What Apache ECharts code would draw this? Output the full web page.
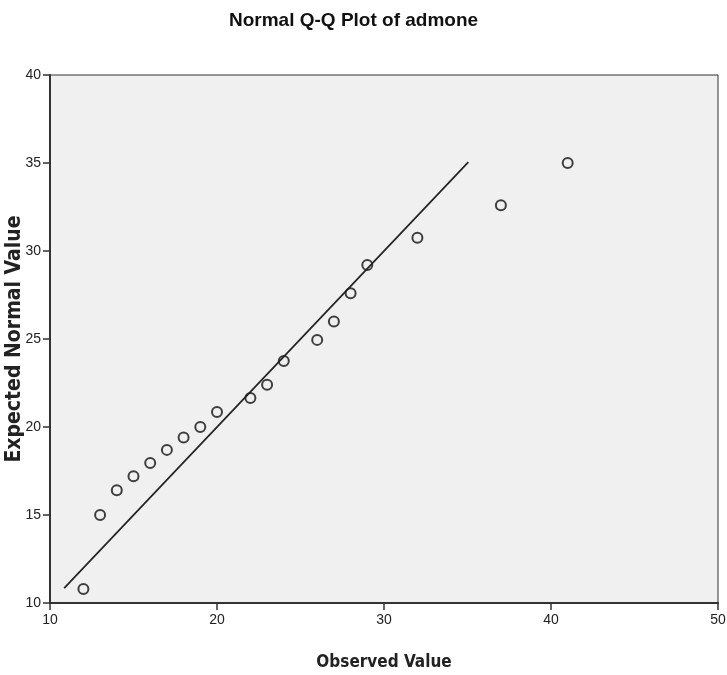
<!DOCTYPE html>
<html>
<head>
<meta charset="utf-8">
<script src="https://cdn.jsdelivr.net/npm/echarts@6/dist/echarts.min.js"></script>
<style>
  html, body { margin: 0; padding: 0; background: #fff; }
  #chart { width: 727px; height: 675px; }
</style>
</head>
<body>
<div id="chart"></div>
<script>
let observed = [12, 13, 14, 15, 16, 17, 18, 19, 20, 22, 23, 24, 26, 27, 28, 29, 32, 37, 41];
let expected = [10.8, 15.0, 16.4, 17.2, 17.95, 18.7, 19.4, 20.0, 20.85, 21.65, 22.4, 23.75, 24.95, 26.0, 27.6, 29.2, 30.75, 32.6, 35.0];

// reference line y = x, its ends
let lineEnds = [10.85, 35.05];

let xTicks = [10, 20, 30, 40, 50];
let yTicks = [10, 15, 20, 25, 30, 35, 40];

let chart = echarts.init(document.getElementById('chart'));

let points = [];
for (let i = 0; i < observed.length; i++) {
    points.push([observed[i], expected[i]]);
}

let axisFont = { fontFamily: '"Liberation Sans Narrow", Arial, sans-serif', fontSize: 14, color: '#222' };
let nameFont = '"DejaVu Sans Condensed", "DejaVu Sans", sans-serif';

let option = {
    backgroundColor: '#fff',
    animation: false,
    title: {
        text: 'Normal Q-Q Plot of admone',
        left: 224,
        top: 6,
        textStyle: { fontFamily: 'Arial, "Liberation Sans", sans-serif', fontSize: 19, fontWeight: 'bold', color: '#111' }
    },
    grid: {
        left: 50, right: 9, top: 75, bottom: 72,
        outerBoundsMode: 'none',
        containLabel: false,
        show: true,
        backgroundColor: '#f0f0f0',
        borderColor: '#333',
        borderWidth: 1
    },
    xAxis: {
        type: 'value',
        min: xTicks[0], max: xTicks[xTicks.length - 1], interval: 10,
        name: 'Observed Value',
        nameLocation: 'middle',
        nameGap: 51,
        nameMoveOverlap: false,
        nameTextStyle: { fontFamily: nameFont, fontSize: 17, fontWeight: 'bold', color: '#222' },
        axisLine: { lineStyle: { color: '#333', width: 2 } },
        axisTick: { show: true, length: 7, lineStyle: { color: '#333', width: 1.5 } },
        axisLabel: Object.assign({ margin: 10 }, axisFont),
        splitLine: { show: false }
    },
    yAxis: {
        type: 'value',
        min: yTicks[0], max: yTicks[yTicks.length - 1], interval: 5,
        name: 'Expected Normal Value',
        nameLocation: 'middle',
        nameGap: 25,
        nameMoveOverlap: false,
        nameTextStyle: { fontFamily: nameFont, fontSize: 21, fontWeight: 'bold', color: '#222' },
        axisLine: { show: true, lineStyle: { color: '#333', width: 2 } },
        axisTick: { show: true, length: 7, lineStyle: { color: '#333', width: 1.5 } },
        axisLabel: Object.assign({ margin: 9 }, axisFont),
        splitLine: { show: false }
    },
    series: [
        {
            type: 'line',
            data: [[lineEnds[0], lineEnds[0]], [lineEnds[1], lineEnds[1]]],
            symbol: 'none',
            lineStyle: { color: '#222', width: 1.7 },
            silent: true
        },
        {
            type: 'scatter',
            data: points,
            symbol: 'circle',
            symbolSize: 10,
            itemStyle: { color: 'transparent', borderColor: '#111', borderWidth: 2 }
        }
    ]
};

chart.setOption(option);
</script>
</body>
</html>
